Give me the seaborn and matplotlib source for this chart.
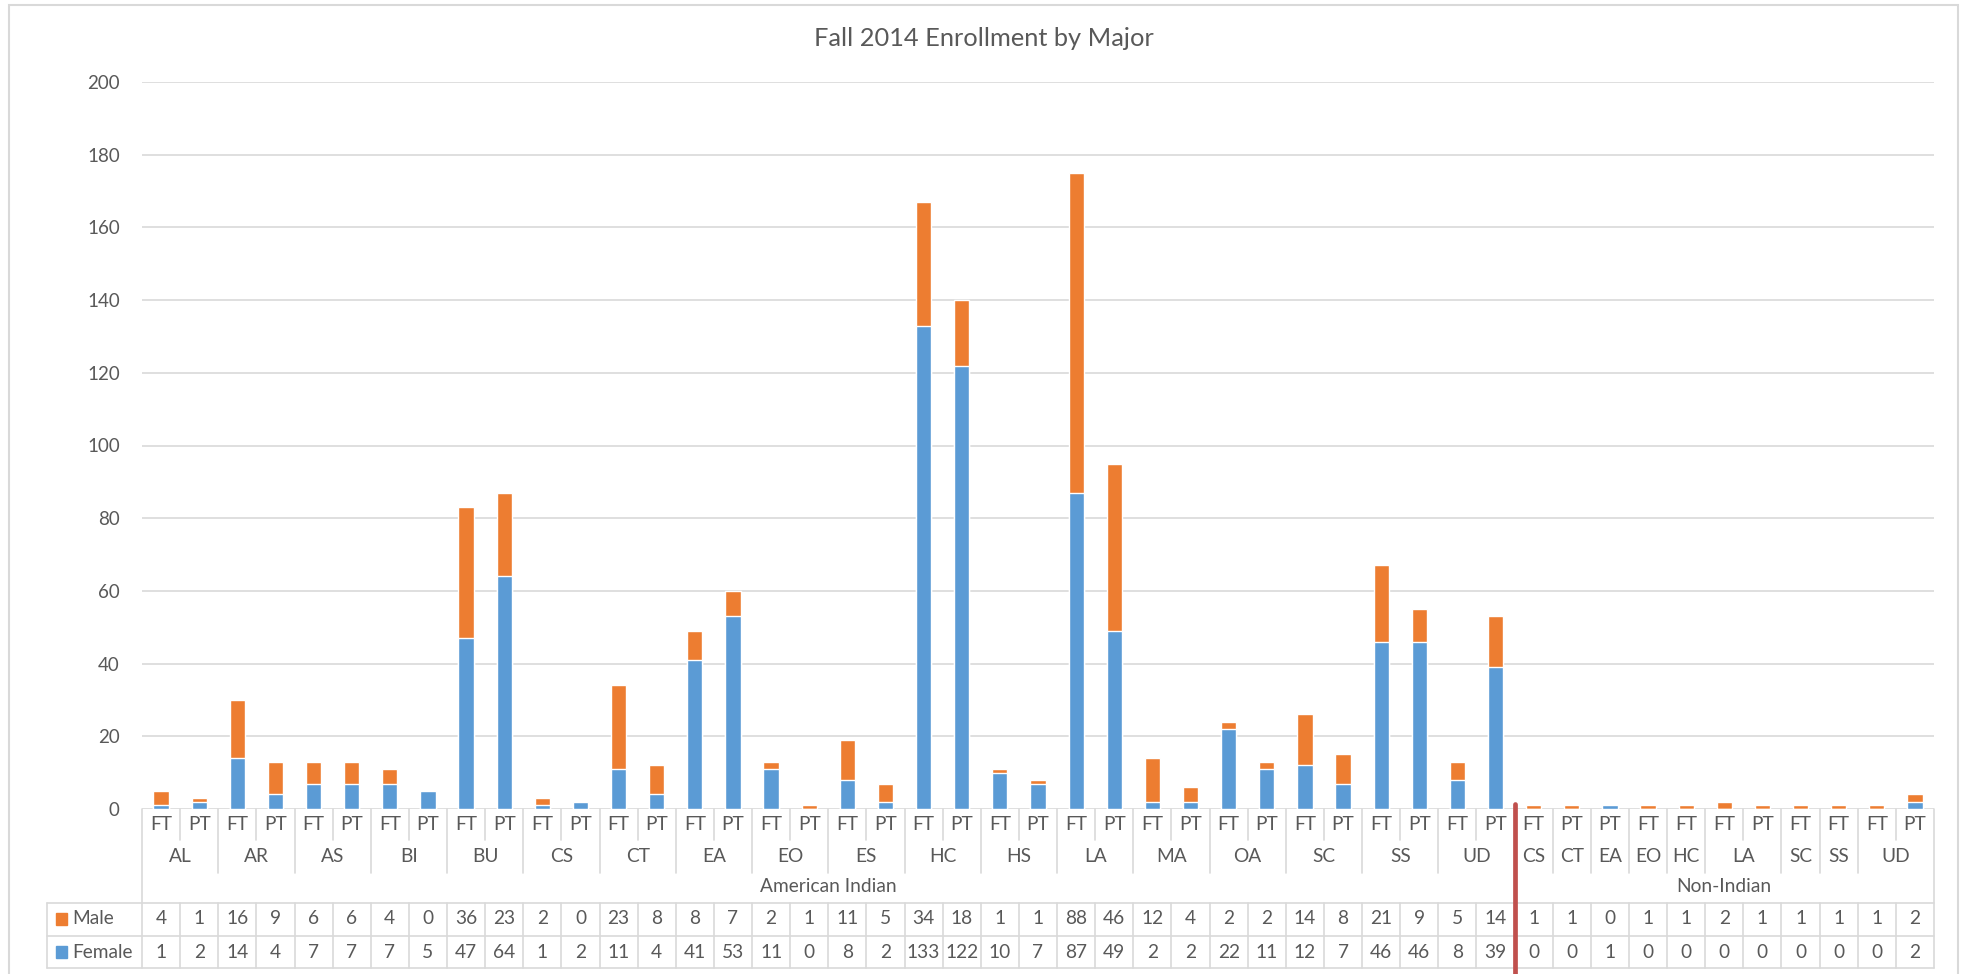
import pandas as pd
import seaborn as sns
import matplotlib.pyplot as plt
from matplotlib.transforms import blended_transform_factory
from matplotlib.lines import Line2D
from matplotlib.patches import Rectangle

# dados do grafico
titulo = 'Fall 2014 Enrollment by Major'
grupo = ['American Indian'] * 36 + ['Non-Indian'] * 11
curso = ['AL', 'AL', 'AR', 'AR', 'AS', 'AS', 'BI', 'BI', 'BU', 'BU', 'CS', 'CS',
         'CT', 'CT', 'EA', 'EA', 'EO', 'EO', 'ES', 'ES', 'HC', 'HC', 'HS', 'HS',
         'LA', 'LA', 'MA', 'MA', 'OA', 'OA', 'SC', 'SC', 'SS', 'SS', 'UD', 'UD',
         'CS', 'CT', 'EA', 'EO', 'HC', 'LA', 'LA', 'SC', 'SS', 'UD', 'UD']
status = ['FT', 'PT'] * 18 + ['FT', 'PT', 'PT', 'FT', 'FT', 'FT', 'PT', 'FT', 'FT', 'FT', 'PT']
male = [4, 1, 16, 9, 6, 6, 4, 0, 36, 23, 2, 0, 23, 8, 8, 7, 2, 1, 11, 5, 34, 18,
        1, 1, 88, 46, 12, 4, 2, 2, 14, 8, 21, 9, 5, 14,
        1, 1, 0, 1, 1, 2, 1, 1, 1, 1, 2]
female = [1, 2, 14, 4, 7, 7, 7, 5, 47, 64, 1, 2, 11, 4, 41, 53, 11, 0, 8, 2, 133, 122,
          10, 7, 87, 49, 2, 2, 22, 11, 12, 7, 46, 46, 8, 39,
          0, 0, 1, 0, 0, 0, 0, 0, 0, 0, 2]
yticks = list(range(0, 201, 20))

laranja = '#ED7D31'
azul = '#5B9BD5'
cinza = '#595959'
linha = '#D9D9D9'

sns.set_style('white')
plt.rcParams['font.family'] = ['Lato', 'DejaVu Sans']

df = pd.DataFrame({'pos': range(len(male)), 'Male': male, 'Female': female})
df['Total'] = df['Male'] + df['Female']

W, H = 1965, 974
fig = plt.figure(figsize=(W / 100, H / 100), dpi=100)
ax = fig.add_axes([142 / W, 1 - 809 / H, (1934 - 142) / W, (809 - 82) / H])

sns.barplot(data=df, x='pos', y='Total', color=laranja, width=0.4,
            saturation=1, errorbar=None, ax=ax)
sns.barplot(data=df, x='pos', y='Female', color=azul, width=0.4,
            saturation=1, errorbar=None, ax=ax)

ax.set_xlim(-0.5, len(male) - 0.5)
ax.set_ylim(0, 200)
ax.set_yticks(yticks)
ax.set_xticks([])
ax.set_xlabel('')
ax.set_ylabel('')
ax.tick_params(axis='y', length=0, pad=16, labelsize=13.5, labelcolor=cinza)
ax.grid(axis='y', color=linha, lw=1.2)
ax.set_axisbelow(True)
for s in ax.spines.values():
    s.set_visible(False)

fig.text(984 / W, 1 - 38 / H, titulo, ha='center', va='center', fontsize=18.3, color=cinza)

# tabela de dados abaixo do eixo
tr = blended_transform_factory(ax.transData, fig.transFigure)
def fy(p):
    return 1 - p / H

def vline(x, y0, y1, t=tr):
    fig.add_artist(Line2D([x, x], [fy(y0), fy(y1)], transform=t, color=linha, lw=1.2))

def hline(x0, x1, y):
    fig.add_artist(Line2D([x0 / W, x1 / W], [fy(y), fy(y)], transform=fig.transFigure,
                          color=linha, lw=1.2))

n = len(male)
vline(-0.5, 809, 968)
vline(n - 0.5, 809, 968)
for i in range(1, n):
    if grupo[i] != grupo[i - 1]:
        y1 = 903
    elif curso[i] != curso[i - 1]:
        y1 = 873
    else:
        y1 = 840
    vline(i - 0.5, 809, y1)
    vline(i - 0.5, 903, 968)
vline(47 / W, 903, 968, fig.transFigure)
hline(47, 1934, 903)
hline(47, 1934, 936)
hline(47, 1934, 968)

fs = 13.8
txt = dict(ha='center', va='center', fontsize=fs, color=cinza, transform=tr)
for i in range(n):
    fig.text(i, fy(825), status[i], **txt)
    fig.text(i, fy(919), str(male[i]), **txt)
    fig.text(i, fy(952), str(female[i]), **txt)

# rotulos de curso e grupo
ini = 0
for i in range(1, n + 1):
    if i == n or curso[i] != curso[ini] or grupo[i] != grupo[ini]:
        fig.text((ini + i - 1) / 2, fy(857), curso[ini], **txt)
        ini = i
ini = 0
for i in range(1, n + 1):
    if i == n or grupo[i] != grupo[ini]:
        fig.text((ini + i - 1) / 2, fy(887), grupo[ini], **txt)
        ini = i

# legenda na tabela
for nome, cor, yy in [('Male', laranja, 919), ('Female', azul, 952)]:
    fig.add_artist(Rectangle((56 / W, fy(yy + 6)), 11 / W, 12 / H,
                             transform=fig.transFigure, color=cor))
    fig.text(72 / W, fy(yy), nome, ha='left', va='center', fontsize=fs, color=cinza)

# linha vermelha separando os grupos
fig.add_artist(Line2D([35.5, 35.5], [fy(804), fy(H)], transform=tr,
                      color='#C0504D', lw=3.4))

# borda do grafico
fig.add_artist(Rectangle((9 / W, fy(H + 5)), (1958 - 9) / W, (H) / H,
                         transform=fig.transFigure, fill=False, ec=linha, lw=1.5))

fig.savefig('out.png', dpi=100)
